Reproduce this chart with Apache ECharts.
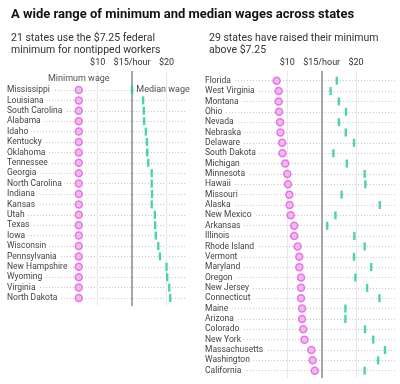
<!DOCTYPE html>
<html><head><meta charset="utf-8">
<script src="https://cdn.jsdelivr.net/npm/echarts@6/dist/echarts.min.js"></script>
<style>html,body{margin:0;padding:0;background:#fff}#c{width:400px;height:384px}</style>
</head><body><div id="c"></div>
<script>
var leftStates = ['Mississippi','Louisiana','South Carolina','Alabama','Idaho','Kentucky','Oklahoma','Tennessee','Georgia','North Carolina','Indiana','Kansas','Utah','Texas','Iowa','Wisconsin','Pennsylvania','New Hampshire','Wyoming','Virginia','North Dakota'];
var leftMin = [7.25,7.25,7.25,7.25,7.25,7.25,7.25,7.25,7.25,7.25,7.25,7.25,7.25,7.25,7.25,7.25,7.25,7.25,7.25,7.25,7.25];
var leftMedian = [15.0,16.6,16.7,16.75,17.0,17.15,17.2,17.35,17.85,17.85,17.9,17.85,18.3,18.35,18.45,18.8,19.05,20.0,20.1,20.4,20.55];

var rightStates = ['Florida','West Virginia','Montana','Ohio','Nevada','Nebraska','Delaware','South Dakota','Michigan','Minnesota','Hawaii','Missouri','Alaska','New Mexico','Arkansas','Illinois','Rhode Island','Vermont','Maryland','Oregon','New Jersey','Connecticut','Maine','Arizona','Colorado','New York','Massachusetts','Washington','California'];
var rightMin = [8.45,8.75,8.75,8.8,8.95,9.0,9.25,9.3,9.7,10.0,10.1,10.3,10.34,10.5,11.0,11.0,11.5,11.75,11.75,12.0,12.0,12.0,12.15,12.15,12.32,12.5,13.5,13.69,14.0];
var rightMedian = [17.2,16.3,17.5,18.55,17.5,18.5,19.7,16.7,18.65,21.25,21.35,17.9,23.45,17.0,15.8,19.75,21.25,19.7,22.2,19.9,21.6,23.4,18.45,18.45,21.3,22.5,24.2,23.2,21.25];

var tickValues = [10, 15, 20];
var tickLabels = ['$10', '$15/hour', '$20'];

var titleText = 'A wide range of minimum and median wages across states';
var leftSubtitle = '21 states use the $7.25 federal\nminimum for nontipped workers';
var rightSubtitle = '29 states have raised their minimum\nabove $7.25';

var PINK = '#e35ddf', PINK_FILL = '#f3a6ef', TEAL = '#1fc89c';
var FONT = 'Roboto, "Noto Sans", sans-serif';

// panel layout: left pixel, width, and x-range
var LX = {left: 7, width: 178, min: -3.18, max: 22.69};
var RX = {left: 205, width: 192, min: -1.96, max: 25.95};

function minData(states, vals) {
  return vals.map(function (v, i) {
    var d = {value: [v, states[i]]};
    if (i === 0 && states === leftStates) {
      d.label = {show: true, position: 'top', distance: 3, formatter: 'Minimum wage', color: '#222', fontSize: 9, fontFamily: FONT};
    }
    return d;
  });
}
function medData(states, vals) {
  return vals.map(function (v, i) {
    var d = {value: [v, states[i]]};
    if (i === 0 && states === leftStates) {
      d.label = {show: true, position: 'right', distance: 3, formatter: 'Median wage', color: '#222', fontSize: 9, fontFamily: FONT};
    }
    return d;
  });
}
function catY(idx, states) {
  return {
    type: 'category', gridIndex: idx, data: states, inverse: true, boundaryGap: false,
    axisLine: {show: false}, axisTick: {show: false},
    axisLabel: {inside: true, interval: 0, margin: 0, color: '#444', fontSize: 8.5, fontFamily: FONT,
      backgroundColor: '#fff', padding: [0, 3, 0, 0]},
    splitLine: {show: true, interval: 0, lineStyle: {type: [1, 2], color: '#c8c8c8', width: 1}}
  };
}
function gridLines(xi, yi) {
  return {
    type: 'scatter', xAxisIndex: xi, yAxisIndex: yi, data: [], z: 1, silent: true,
    markLine: {
      silent: true, symbol: 'none', animation: false, z: 1,
      data: tickValues.map(function (v, i) {
        return {xAxis: v, lineStyle: {color: v === 15 ? '#8a8a8a' : '#e8e8e8', width: v === 15 ? 1.5 : 1, type: 'solid'},
          label: {show: true, position: 'end', distance: 4, formatter: tickLabels[i], color: '#333', fontSize: 9, fontFamily: FONT}};
      })
    }
  };
}
function circleSeries(xi, states, vals) {
  return {type: 'scatter', xAxisIndex: xi, yAxisIndex: xi, z: 4, symbol: 'circle', symbolSize: 7,
    itemStyle: {color: PINK_FILL, borderColor: PINK, borderWidth: 1.5}, data: minData(states, vals)};
}
function tickSeries(xi, states, vals) {
  return {type: 'scatter', xAxisIndex: xi, yAxisIndex: xi, z: 4, symbol: 'rect', symbolSize: [2.4, 8],
    itemStyle: {color: TEAL}, data: medData(states, vals)};
}

var chart = echarts.init(document.getElementById('c'), null, {renderer: 'canvas'});
chart.setOption({
  animation: false,
  backgroundColor: '#fff',
  title: [
    {text: titleText, left: 6, top: 3, textStyle: {fontSize: 13, fontWeight: 'bold', color: '#121212', fontFamily: FONT}},
    {text: leftSubtitle, left: 6, top: 27, textStyle: {fontSize: 10.5, fontWeight: 'normal', color: '#333', lineHeight: 12.5, fontFamily: FONT}},
    {text: rightSubtitle, left: 204, top: 27, textStyle: {fontSize: 10.5, fontWeight: 'normal', color: '#333', lineHeight: 12.5, fontFamily: FONT}}
  ],
  grid: [
    {left: LX.left, width: LX.width, top: 90, height: 208},
    {left: RX.left, width: RX.width, top: 80.7, height: 290},
    {left: LX.left, width: LX.width, top: 71, height: 235},
    {left: RX.left, width: RX.width, top: 71, height: 307}
  ],
  xAxis: [
    {type: 'value', gridIndex: 0, min: LX.min, max: LX.max, show: false},
    {type: 'value', gridIndex: 1, min: RX.min, max: RX.max, show: false},
    {type: 'value', gridIndex: 2, min: LX.min, max: LX.max, show: false},
    {type: 'value', gridIndex: 3, min: RX.min, max: RX.max, show: false}
  ],
  yAxis: [
    catY(0, leftStates),
    catY(1, rightStates),
    {type: 'value', gridIndex: 2, min: 0, max: 1, show: false},
    {type: 'value', gridIndex: 3, min: 0, max: 1, show: false}
  ],
  series: [
    gridLines(2, 2),
    gridLines(3, 3),
    circleSeries(0, leftStates, leftMin),
    tickSeries(0, leftStates, leftMedian),
    circleSeries(1, rightStates, rightMin),
    tickSeries(1, rightStates, rightMedian)
  ]
});
</script></body></html>
